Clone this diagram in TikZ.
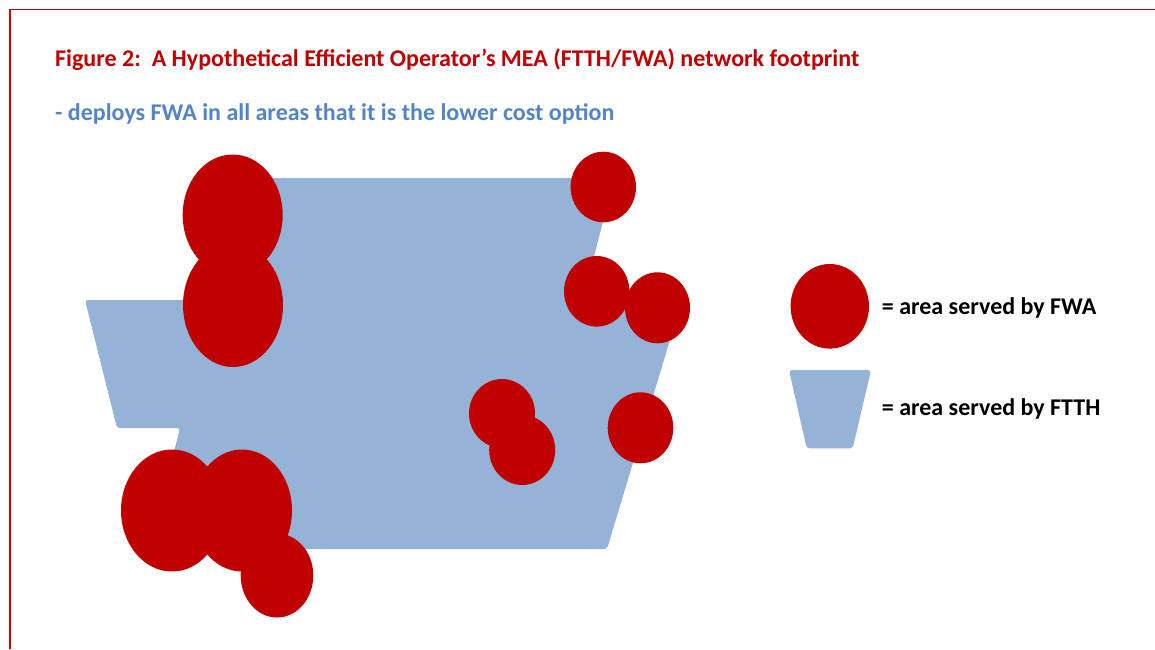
\documentclass[tikz,border=0pt]{standalone}
\usepackage{fontspec}
\setmainfont{Carlito}
\begin{document}
\begin{tikzpicture}[
  x=1pt, y=-1pt,
  every node/.style={inner sep=0pt},
  txt/.style={anchor=base west, font=\fontsize{24}{28}\selectfont\bfseries},
]

\definecolor{fwa}{HTML}{C00000}
\definecolor{ftth}{HTML}{95B3D7}
\definecolor{frame}{HTML}{CC0000}
\definecolor{sub}{HTML}{5384C4}

\useasboundingbox (0,0) rectangle (1155,649);

% frame
\draw[frame, line width=1.7pt] (10,649) -- (10,9.5) -- (1155,9.5);

% headings
\node[txt, text=fwa] (title) at (55,66)
  {Figure 2:\ \ A Hypothetical Efficient Operator’s MEA (FTTH/FWA) network footprint};
\node[txt, text=sub] (subtitle) at (55,120)
  {- deploys FWA in all areas that it is the lower cost option};

% FTTH footprint
\fill[ftth, rounded corners=3pt]
  (245,178) -- (614,178) -- (583,300) -- (682,300) -- (607,549) -- (150,549)
  -- (180,428) -- (117,428) -- (85,300) -- (205,300) -- cycle;

% FWA areas
\foreach \cx/\cy/\rx/\ry in {%
  232.7/215/50/60.5,
  233/305/50/62,
  603.3/187/32.7/35.3,
  596.7/291.3/32.7/35.3,
  657.5/307.8/32.5/35.5,
  502/413.5/33/34.5,
  522.2/450/33/35,
  640.5/427.8/32.8/35.5,
  172/510.5/51/61,
  242/510.5/50/61,
  277/575.5/36.3/42%
}
  \fill[fwa] (\cx,\cy) ellipse ({\rx pt} and {\ry pt});

% key
\fill[fwa] (829.8,306.3) ellipse (39.2pt and 42.3pt);
\fill[ftth, rounded corners=3pt]
  (789,370) -- (871,370) -- (852.7,448.3) -- (806.7,448.3) -- cycle;
\node[txt] (keyfwa) at (881.7,314) {= area served by FWA};
\node[txt] (keyftth) at (881.7,415) {= area served by FTTH};

\end{tikzpicture}
\end{document}
